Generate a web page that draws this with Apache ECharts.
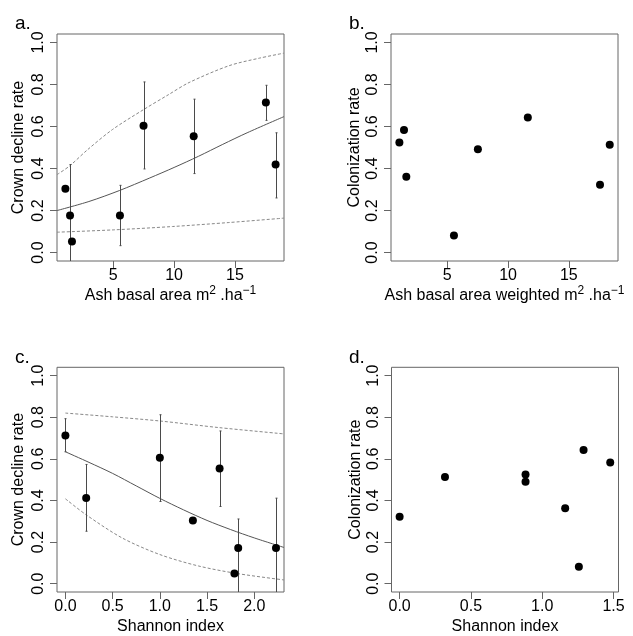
<!DOCTYPE html>
<html><head><meta charset="utf-8">
<script src="https://cdn.jsdelivr.net/npm/echarts@6/dist/echarts.min.js"></script>
<style>html,body{margin:0;padding:0;background:#fff}#c{width:633px;height:636px}</style>
</head><body><div id="c"></div>
<script>
// ---------- data ----------
const ashBasal = [1.07, 1.45, 1.61, 5.55, 7.49, 11.61, 17.54, 18.34];
const crownA = [0.304, 0.177, 0.053, 0.177, 0.604, 0.554, 0.714, 0.419];
const errAX = [1.45, 5.55, 7.49, 11.61, 17.54, 18.34];
const errALow = [-0.10, 0.033, 0.398, 0.376, 0.629, 0.26];
const errAHigh = [0.419, 0.32, 0.812, 0.73, 0.796, 0.570];
const fitAX = [0.38, 3.0, 5.5, 8.0, 10.0, 12.0, 14.0, 16.0, 19.03];
const fitA = [0.200, 0.243, 0.295, 0.355, 0.405, 0.458, 0.515, 0.570, 0.647];
const fitAUpX = [0.38, 1.39, 2.9, 4.95, 7.54, 9.5, 11.23, 14.51, 17.0, 19.03];
const fitAUp = [0.371, 0.411, 0.49, 0.586, 0.682, 0.75, 0.809, 0.889, 0.925, 0.949];
const fitALoX = [0.38, 5.0, 9.87, 14.5, 19.03];
const fitALo = [0.097, 0.108, 0.124, 0.143, 0.164];

const ashWeighted = [1.06, 1.44, 1.63, 5.55, 7.52, 11.63, 17.57, 18.37];
const colonB = [0.524, 0.583, 0.361, 0.081, 0.492, 0.643, 0.323, 0.513];

const shannonC = [0, 0.22, 1.0, 1.35, 1.633, 1.79, 1.83, 2.23];
const crownC = [0.712, 0.412, 0.605, 0.304, 0.554, 0.049, 0.171, 0.171];
const errCX = [0, 0.22, 1.0, 1.633, 1.83, 2.23];
const errCLow = [0.634, 0.252, 0.395, 0.371, -0.10, -0.10];
const errCHigh = [0.793, 0.573, 0.812, 0.734, 0.311, 0.411];
const fitCX = [0, 0.25, 0.5, 0.75, 1.0, 1.25, 1.5, 1.75, 2.0, 2.315];
const fitC = [0.634, 0.583, 0.530, 0.470, 0.410, 0.355, 0.304, 0.260, 0.220, 0.174];
const fitCUpX = [0, 0.5, 1.0, 1.63, 2.315];
const fitCUp = [0.820, 0.802, 0.782, 0.750, 0.720];
const fitCLoX = [0, 0.22, 0.6, 1.0, 1.41, 1.83, 2.315];
const fitCLo = [0.408, 0.331, 0.22, 0.14, 0.085, 0.048, 0.018];

const shannonD = [0, 0.318, 0.883, 0.883, 1.161, 1.257, 1.290, 1.477];
const colonD = [0.322, 0.513, 0.525, 0.490, 0.363, 0.081, 0.642, 0.583];

const yTicks = [0, 0.2, 0.4, 0.6, 0.8, 1.0];
const xTicksAsh = [5, 10, 15];
const xTicksShanC = [0, 0.5, 1.0, 1.5, 2.0];
const xTicksShanD = [0, 0.5, 1.0, 1.5];

const yTitles = ['Crown decline rate', 'Colonization rate', 'Crown decline rate', 'Colonization rate'];
const xTitles = [
  '{n|Ash basal area m}{s|2}{n| .ha}{s|\u22121}',
  '{n|Ash basal area weighted m}{s|2}{n| .ha}{s|\u22121}',
  '{n|Shannon index}',
  '{n|Shannon index}'
];
const panelLabels = ['a.', 'b.', 'c.', 'd.'];

// ---------- layout ----------
const FONT = '"Liberation Sans", Arial, Helvetica, sans-serif';
const BOX = '#666';
const grids = [
  {left: 57, top: 34, width: 227, height: 227},
  {left: 391, top: 34, width: 227, height: 227},
  {left: 57, top: 367.3, width: 227, height: 226.7},
  {left: 391.5, top: 367.3, width: 227, height: 226.7}
];
const xRanges = [[0.38, 19.03], [0.37, 19.05], [-0.089, 2.315], [-0.057, 1.535]];
const xTickSets = [xTicksAsh, xTicksAsh, xTicksShanC, xTicksShanD];
const xFmt = [v => String(v), v => String(v), v => v.toFixed(1), v => v.toFixed(1)];

const zip = (xs, ys) => xs.map((x, i) => [x, ys[i]]);
const zip3 = (xs, a, b) => xs.map((x, i) => [x, a[i], b[i]]);

const option = {
  animation: false,
  backgroundColor: '#fff',
  grid: grids.map(g => Object.assign({show: true, borderColor: BOX, borderWidth: 1, backgroundColor: 'transparent', containLabel: false}, g)),
  xAxis: grids.map((g, i) => ({
    type: 'value', gridIndex: i, min: xRanges[i][0], max: xRanges[i][1], position: 'bottom',
    axisLine: {show: false, onZero: false}, splitLine: {show: false},
    axisTick: {show: true, inside: false, length: 7, lineStyle: {color: BOX}, customValues: xTickSets[i]},
    axisLabel: {show: true, margin: 7, color: '#000', fontSize: 16, fontFamily: FONT, customValues: xTickSets[i], formatter: xFmt[i]},
    name: xTitles[i], nameLocation: 'middle', nameGap: 24,
    nameTextStyle: {color: '#000', fontSize: 16, fontFamily: FONT,
      rich: {n: {fontSize: 16, fontFamily: FONT, color: '#000', lineHeight: 22},
             s: {fontSize: 12, fontFamily: FONT, color: '#000', lineHeight: 9, verticalAlign: 'top'}}}
  })),
  yAxis: grids.map((g, i) => ({
    type: 'value', gridIndex: i, min: -0.04, max: 1.04, position: 'left',
    axisLine: {show: false, onZero: false}, splitLine: {show: false},
    axisTick: {show: true, inside: false, length: 7, lineStyle: {color: BOX}, customValues: yTicks},
    axisLabel: {show: true, rotate: 90, margin: 10, color: '#000', fontSize: 16, fontFamily: FONT, customValues: yTicks, formatter: v => v.toFixed(1)},
    name: yTitles[i], nameLocation: 'middle', nameRotate: 90, nameGap: (i % 2 ? 28 : 30),
    nameTextStyle: {color: '#000', fontSize: 16, fontFamily: FONT}
  })),
  graphic: panelLabels.map((t, i) => ({
    type: 'text', x: (i % 2 ? 349 : 15), y: (i < 2 ? 24 : 358),
    style: {text: t, font: '19px ' + FONT, fill: '#000', verticalAlign: 'middle'}
  })),
  series: []
};

function errBars(i, xs, lo, hi) {
  return {
    type: 'custom', xAxisIndex: i, yAxisIndex: i, z: 3,
    data: zip3(xs, lo, hi),
    renderItem: function (params, api) {
      const cs = params.coordSys;
      const p1 = api.coord([api.value(0), api.value(1)]);
      const p2 = api.coord([api.value(0), api.value(2)]);
      const yb = Math.min(p1[1], cs.y + cs.height);
      const yt = Math.max(p2[1], cs.y);
      const x = Math.round(p1[0]) + 0.5;
      const st = {stroke: '#4a4a4a', lineWidth: 1};
      const ch = [{type: 'line', shape: {x1: x, y1: yb, x2: x, y2: yt}, style: st}];
      if (p2[1] >= cs.y) ch.push({type: 'line', shape: {x1: x - 1, y1: p2[1], x2: x + 1, y2: p2[1]}, style: st});
      if (p1[1] <= cs.y + cs.height) ch.push({type: 'line', shape: {x1: x - 1, y1: p1[1], x2: x + 1, y2: p1[1]}, style: st});
      return {type: 'group', children: ch};
    }
  };
}
function curve(i, xs, ys, dashed) {
  return {
    type: 'line', xAxisIndex: i, yAxisIndex: i, data: zip(xs, ys), smooth: 0.3,
    showSymbol: false, symbol: 'none', clip: true, z: 2,
    lineStyle: {color: dashed ? '#888' : '#555', width: 1, type: dashed ? [3, 2] : 'solid'}
  };
}
function points(i, xs, ys) {
  return {type: 'scatter', xAxisIndex: i, yAxisIndex: i, data: zip(xs, ys), symbolSize: 8,
    itemStyle: {color: '#000', opacity: 1}, z: 4};
}

option.series.push(
  curve(0, fitAX, fitA, false), curve(0, fitAUpX, fitAUp, true), curve(0, fitALoX, fitALo, true),
  errBars(0, errAX, errALow, errAHigh), points(0, ashBasal, crownA),
  points(1, ashWeighted, colonB),
  curve(2, fitCX, fitC, false), curve(2, fitCUpX, fitCUp, true), curve(2, fitCLoX, fitCLo, true),
  errBars(2, errCX, errCLow, errCHigh), points(2, shannonC, crownC),
  points(3, shannonD, colonD)
);

const chart = echarts.init(document.getElementById('c'), null, {renderer: 'canvas'});
chart.setOption(option);
</script>
</body></html>
